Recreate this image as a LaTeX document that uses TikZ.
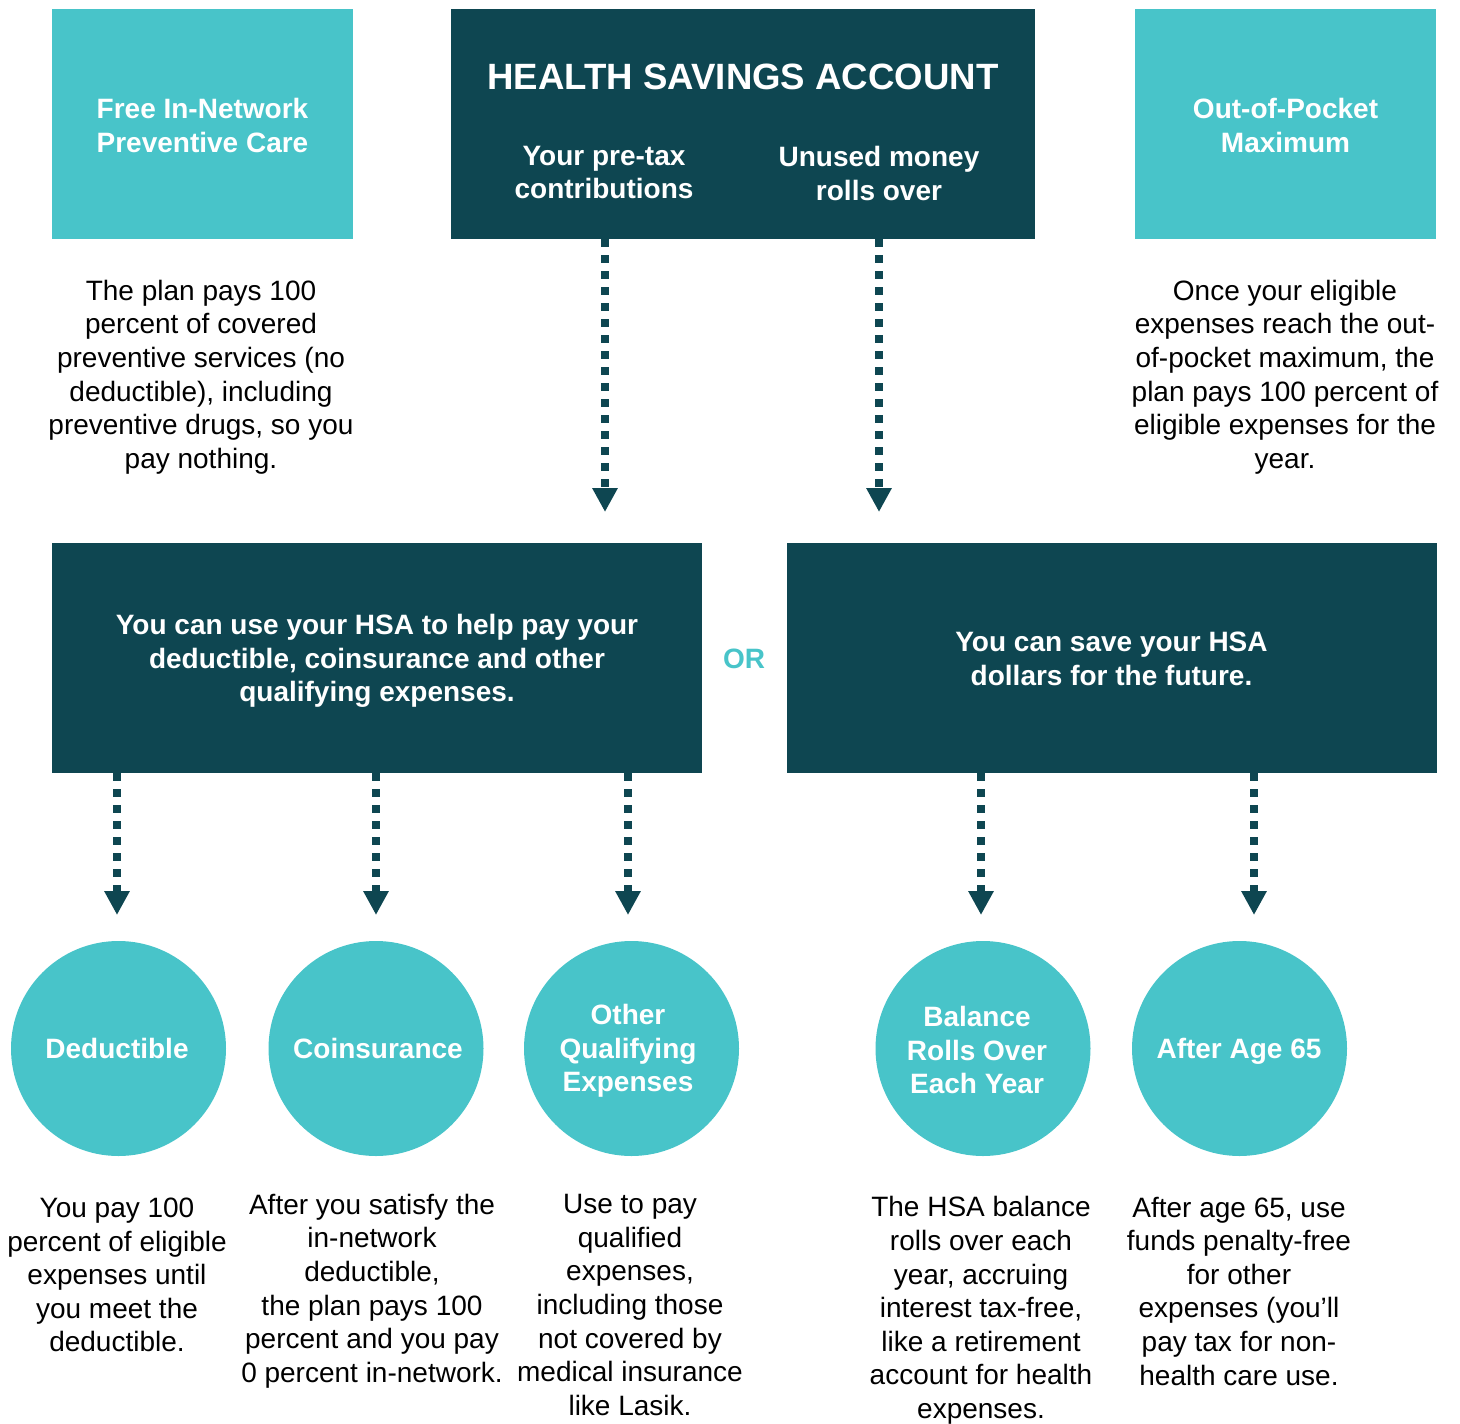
\documentclass[tikz,border=0pt]{standalone}
\usepackage{fontspec}
\setmainfont{Liberation Sans}
\usetikzlibrary{arrows.meta}
\definecolor{dteal}{HTML}{0E4651}
\definecolor{lteal}{HTML}{48C4C9}
\tikzset{
  boxbase/.style={inner sep=0pt, text=white, align=center,
    font=\bfseries\fontsize{14}{16.8}\selectfont},
  lbox/.style={boxbase, fill=lteal, minimum width=150.5pt, minimum height=115pt},
  hsabox/.style={boxbase, fill=dteal, minimum width=292pt, minimum height=115pt},
  dbox/.style={boxbase, fill=dteal, minimum width=325pt, minimum height=115pt},
  circ/.style={boxbase, circle, fill=lteal, minimum size=107.5pt},
  wtxt/.style={boxbase},
  body/.style={inner sep=0pt, align=center, text=black,
    font=\fontsize{14}{16.8}\selectfont},
  arr/.style={draw=dteal, line width=4pt, dash pattern=on 4pt off 4pt,
    -{Triangle[width=12pt,length=12pt]}}
}
\begin{document}
\begin{tikzpicture}[x=0.5pt,y=-0.5pt]
\useasboundingbox (0,0) rectangle (1460,1423);
% top row
\node[lbox] (free) at (202.5,124) {};
\node[wtxt] (freel) at (202.5,125.5) {Free In-Network\\Preventive Care};
\node[hsabox] (hsa) at (743,124) {};
\node[lbox] (oop) at (1285.5,124) {};
\node[wtxt] (oopl) at (1285.5,125.5) {Out-of-Pocket\\Maximum};
\node[wtxt, font=\bfseries\fontsize{18.3}{22}\selectfont] (hsatitle) at (743,77) {HEALTH SAVINGS ACCOUNT};
\node[wtxt] (pretax) at (604,172.5) {Your pre-tax\\contributions};
\node[wtxt] (unused) at (879,173.5) {Unused money\\rolls over};
\node[body] (freetxt) at (201,377) {The plan pays 100\\percent of covered\\preventive services (no\\deductible), including\\preventive drugs, so you\\pay nothing.};
\node[body] (ooptxt) at (1285,377) {Once your eligible\\expenses reach the out-\\of-pocket maximum, the\\plan pays 100 percent of\\eligible expenses for the\\year.};
% middle row
\node[dbox] (midL) at (377,658) {};
\node[wtxt] (midLtxt) at (377,661) {You can use your HSA to help pay your\\deductible, coinsurance and other\\qualifying expenses.};
\node[dbox] (midR) at (1111.5,658) {};
\node[wtxt] (midRtxt) at (1111.5,659) {You can save your HSA\\dollars for the future.};
\node[boxbase, text=lteal] (or) at (744,659) {OR};
% top arrows
\coordinate (t1) at (605,512);
\coordinate (t2) at (879,512);
\draw[arr] (hsa.south -| t1) -- (t1);
\draw[arr] (hsa.south -| t2) -- (t2);
% circles
\node[circ] (ded) at (118.5,1048.5) {};
\node[circ] (coi) at (376,1048.5) {};
\node[circ] (oth) at (631.5,1048.5) {};
\node[circ] (bal) at (983,1048.5) {};
\node[circ] (age) at (1239.5,1048.5) {};
\node[wtxt] (dedl) at (117,1048) {Deductible};
\node[wtxt] (coil) at (378,1048) {Coinsurance};
\node[wtxt] (othl) at (628,1051) {Other\\Qualifying\\Expenses};
\node[wtxt] (ball) at (977,1050) {Balance\\Rolls Over\\Each Year};
\node[wtxt] (agel) at (1239,1051) {After Age 65};
% bottom arrows
\coordinate (b1) at (117,915);
\coordinate (b2) at (376,915);
\coordinate (b3) at (628,915);
\coordinate (b4) at (981,915);
\coordinate (b5) at (1254,915);
\draw[arr] (midL.south -| b1) -- (b1);
\draw[arr] (midL.south -| b2) -- (b2);
\draw[arr] (midL.south -| b3) -- (b3);
\draw[arr] (midR.south -| b4) -- (b4);
\draw[arr] (midR.south -| b5) -- (b5);
% texts below circles
\node[body] (dedt) at (117,1275) {You pay 100\\percent of eligible\\expenses until\\you meet the\\deductible.};
\node[body] (coit) at (372,1291) {After you satisfy the\\in-network\\deductible,\\the plan pays 100\\percent and you pay\\0 percent in-network.};
\node[body] (otht) at (630,1305) {Use to pay\\qualified\\expenses,\\including those\\not covered by\\medical insurance\\like Lasik.};
\node[body] (balt) at (981,1310.5) {The HSA balance\\rolls over each\\year, accruing\\interest tax-free,\\like a retirement\\account for health\\expenses.};
\node[body] (aget) at (1239,1291) {After age 65, use\\funds penalty-free\\for other\\expenses (you’ll\\pay tax for non-\\health care use.};
\end{tikzpicture}
\end{document}
